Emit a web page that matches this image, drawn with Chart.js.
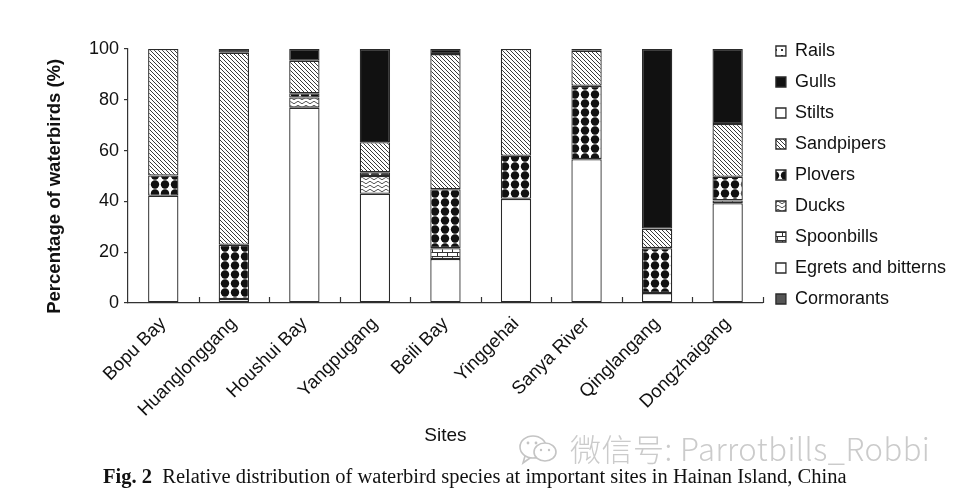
<!DOCTYPE html>
<html lang="en">
<head>
<meta charset="UTF-8">
<title>Relative distribution of waterbird species</title>
<style>
    html, body { margin: 0; padding: 0; background: #fff; }
    #wrap { position: relative; width: 963px; height: 502px; }
    #wrap canvas { position: absolute; left: 0; top: 0; }
    .caption {
        position: absolute; left: 103px; top: 465px;
        font-family: "Liberation Serif", serif; font-size: 20.5px; color: #111;
        white-space: nowrap;
    }
    .mark {
        position: absolute; left: 518px; top: 425px;
        font-family: "Noto Sans CJK SC", sans-serif; font-weight: 300;
        font-size: 31px; letter-spacing: 0.5px; color: #cbcbcb; white-space: nowrap;
    }
    .mark svg { vertical-align: -5px; margin-right: 8px; }
</style>
</head>
<body>
<div id="wrap">
    <canvas id="myChart" width="963" height="502"></canvas>
    <div class="mark"><svg width="44" height="32" viewBox="0 0 44 32"><g fill="none" stroke="#c4c4c4" stroke-width="1.6"><ellipse cx="15" cy="13" rx="13" ry="11"/><path d="M7 22 L5 29 L12 24"/><ellipse cx="27" cy="18" rx="11" ry="9" fill="#fff"/></g><g fill="#c4c4c4"><circle cx="10" cy="9" r="1.4"/><circle cx="18" cy="9" r="1.4"/><circle cx="23" cy="16" r="1.2"/><circle cx="31" cy="16" r="1.2"/></g></svg>微信号: Parrotbills_Robbi</div>
    <div class="caption"><b>Fig. 2</b>&nbsp; Relative distribution of waterbird species at important sites in Hainan Island, China</div>
</div>

<script src="https://cdn.jsdelivr.net/npm/chart.js@4.4.0/dist/chart.umd.min.js"></script>
<script>
// sites on the x axis
var sites = ['Bopu Bay', 'Huanglonggang', 'Houshui Bay', 'Yangpugang', 'Beili Bay',
             'Yinggehai', 'Sanya River', 'Qinglangang', 'Dongzhaigang'];

// percentage of each group per site (stacked bottom -> top)
var cormorants = [0, 0, 0, 0, 0, 0, 0, 0, 0];
var egrets     = [42.2, 1.6, 76.9, 43, 17.3, 41, 56.6, 3.9, 39.3];
var spoonbills = [0, 0, 0, 0, 4.3, 0, 0, 0, 1.1];
var ducks      = [0, 0, 4, 7, 0, 0, 0, 0, 0];
var plovers    = [8, 21.3, 1.7, 1.5, 23.2, 17, 28.9, 17.7, 9.3];
var sandpipers = [49.8, 75.6, 12.8, 11.8, 53.2, 42, 13.8, 7.7, 20.8];
var stilts     = [0, 0, 0, 0, 0, 0, 0, 0, 0];
var gulls      = [0, 1.5, 4.6, 36.7, 2, 0, 0.7, 70.7, 29.5];
var rails      = [0, 0, 0, 0, 0, 0, 0, 0, 0];

var yTicks = [0, 20, 40, 60, 80, 100];

// --- fill patterns ---
function tile(w, h, draw) {
    var c = document.createElement('canvas');
    c.width = w; c.height = h;
    var g = c.getContext('2d');
    g.fillStyle = '#fff';
    g.fillRect(0, 0, w, h);
    draw(g);
    return document.getElementById('myChart').getContext('2d').createPattern(c, 'repeat');
}

var hatch = tile(4, 4, function (g) {
    g.strokeStyle = '#3a3a3a'; g.lineWidth = 1;
    g.beginPath();
    g.moveTo(-1, -1); g.lineTo(5, 5);
    g.moveTo(-1, 3); g.lineTo(1, 5);
    g.moveTo(3, -1); g.lineTo(5, 1);
    g.stroke();
});

var dots = tile(10, 9, function (g) {
    g.fillStyle = '#111';
    g.beginPath(); g.arc(5, 4.5, 4.2, 0, Math.PI * 2); g.fill();
});

var waves = tile(8, 4, function (g) {
    g.strokeStyle = '#555'; g.lineWidth = 1;
    g.beginPath();
    g.moveTo(0, 2.5);
    g.quadraticCurveTo(2, 0, 4, 2.5);
    g.quadraticCurveTo(6, 5, 8, 2.5);
    g.stroke();
});

var bricks = tile(10, 8, function (g) {
    g.strokeStyle = '#333'; g.lineWidth = 1;
    g.beginPath();
    g.moveTo(0, 0.5); g.lineTo(10, 0.5);
    g.moveTo(0, 4.5); g.lineTo(10, 4.5);
    g.moveTo(2.5, 0); g.lineTo(2.5, 4);
    g.moveTo(7.5, 4); g.lineTo(7.5, 8);
    g.stroke();
});

var sparse = tile(6, 6, function (g) {
    g.fillStyle = '#333';
    g.fillRect(1, 1, 2, 2);
});

function series(label, data, fill) {
    return {
        label: label,
        data: data,
        backgroundColor: fill,
        borderColor: '#2a2a2a',
        borderWidth: 1.3,
        borderSkipped: false,
        categoryPercentage: 1,
        barPercentage: 0.43
    };
}

var datasets = [
    series('Cormorants', cormorants, '#555'),
    series('Egrets and bitterns', egrets, '#fff'),
    series('Spoonbills', spoonbills, bricks),
    series('Ducks', ducks, waves),
    series('Plovers', plovers, dots),
    series('Sandpipers', sandpipers, hatch),
    series('Stilts', stilts, '#fff'),
    series('Gulls', gulls, '#111'),
    series('Rails', rails, sparse)
];

// small upward ticks between the sites
var innerTicks = {
    id: 'innerTicks',
    afterDraw: function (chart) {
        var x = chart.scales.x, ctx = chart.ctx;
        var half = (x.getPixelForValue(1) - x.getPixelForValue(0)) / 2;
        ctx.save();
        ctx.strokeStyle = '#333';
        ctx.lineWidth = 1.2;
        ctx.beginPath();
        for (var i = 0; i < sites.length; i++) {
            var px = Math.round(x.getPixelForValue(i) + half) + 0.5;
            ctx.moveTo(px, x.top);
            ctx.lineTo(px, x.top - 6);
        }
        ctx.stroke();
        ctx.restore();
    }
};

Chart.defaults.font.family = '"Liberation Sans", Arial, sans-serif';
Chart.defaults.color = '#1a1a1a';

new Chart(document.getElementById('myChart'), {
    type: 'bar',
    data: { labels: sites, datasets: datasets },
    plugins: [innerTicks],
    options: {
        responsive: false,
        animation: false,
        layout: { padding: { left: 42, right: 7, top: 29, bottom: 51 } },
        plugins: {
            tooltip: { enabled: false },
            title: {
                display: true, text: ' ', fullSize: false,
                font: { size: 10, lineHeight: 1 }, padding: { top: 0, bottom: 10 }
            },
            legend: {
                position: 'right',
                align: 'start',
                reverse: true,
                labels: {
                    boxWidth: 10, boxHeight: 10, padding: 13,
                    font: { size: 18 }, color: '#111'
                }
            }
        },
        scales: {
            x: {
                stacked: true,
                grid: { display: false },
                border: { display: true, color: '#333', width: 1.2 },
                ticks: { minRotation: 45, maxRotation: 45, padding: 2, font: { size: 18.5 }, color: '#111' },
                title: { display: true, text: 'Sites', font: { size: 19 }, color: '#111', padding: { top: 4, bottom: 4 } },
                afterFit: function (s) { s.height = 148; }
            },
            y: {
                stacked: true,
                min: 0, max: 100,
                afterBuildTicks: function (s) { s.ticks = yTicks.map(function (v) { return { value: v }; }); },
                grid: { drawOnChartArea: false, drawTicks: true, tickLength: 4, color: '#333', lineWidth: 1.2 },
                border: { display: true, color: '#333', width: 1.2 },
                ticks: { padding: 5, font: { size: 18 }, color: '#111' },
                // trailing spaces nudge the title down, as in the source figure
                title: { display: true, text: 'Percentage of waterbirds (%)\u00a0\u00a0\u00a0\u00a0', font: { size: 18.5, weight: 'bold' }, color: '#111', padding: { top: 2, bottom: 4 } },
                afterFit: function (s) { s.width = 86; }
            }
        }
    }
});
</script>
</body>
</html>
